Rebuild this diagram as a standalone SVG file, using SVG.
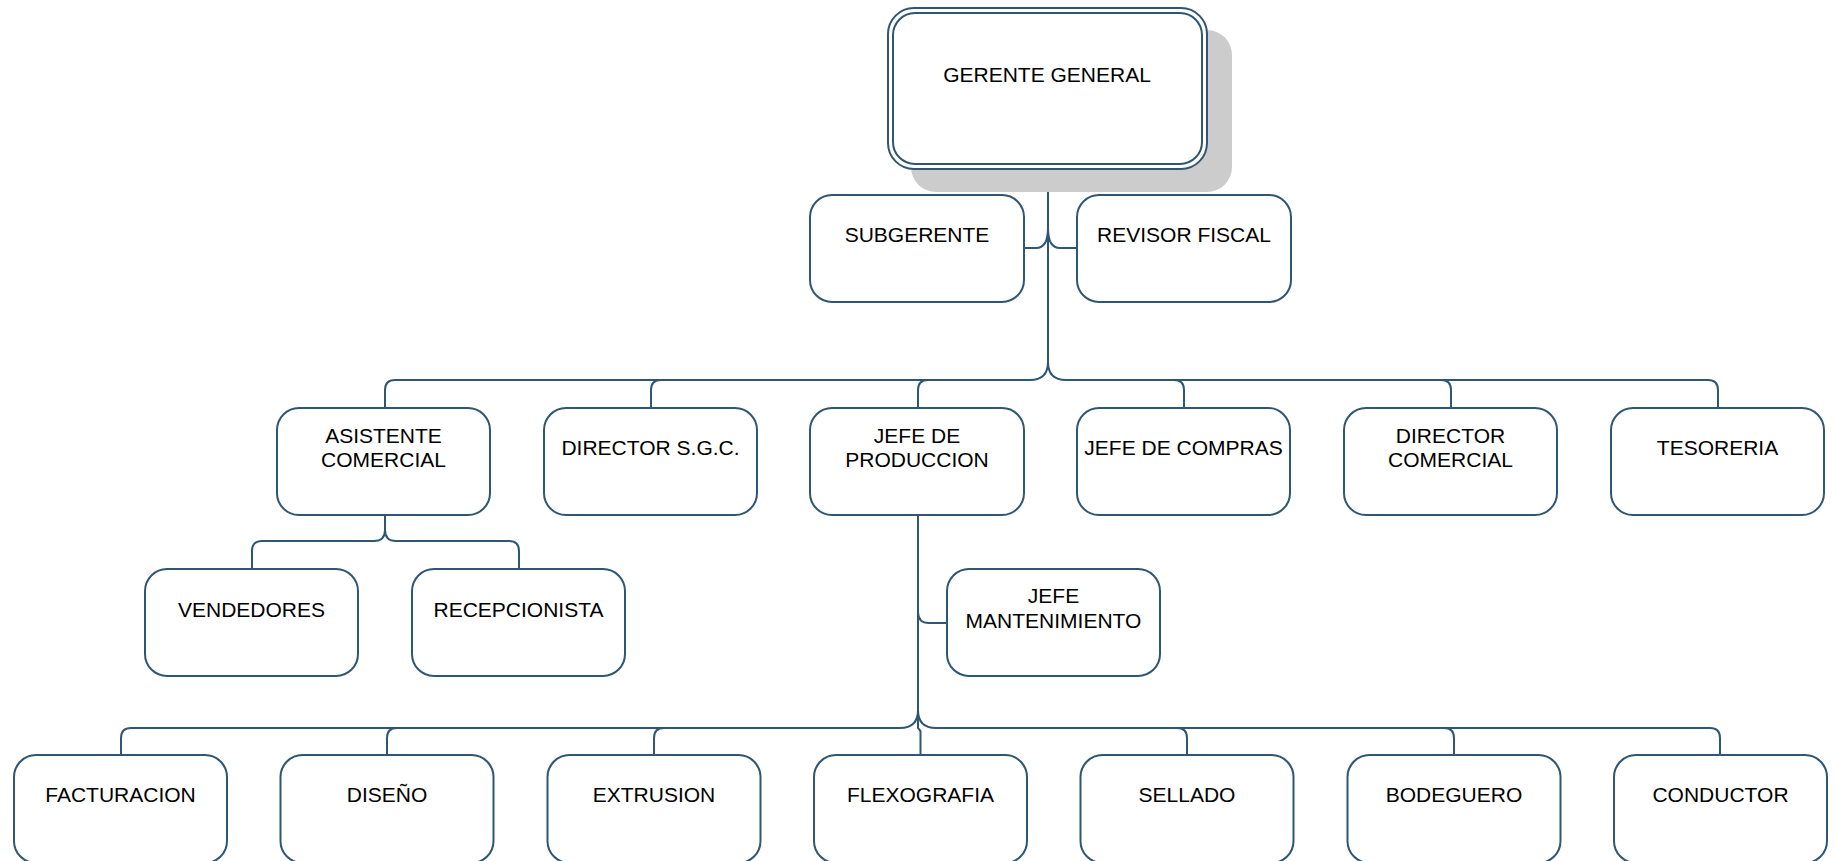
<svg xmlns="http://www.w3.org/2000/svg" width="1836" height="861" viewBox="0 0 1836 861">
<style>
.b{fill:#fff;stroke:#2f5672;stroke-width:2}
.c{fill:none;stroke:#2f5672;stroke-width:2}
.t{font-family:"Liberation Sans",Arial,sans-serif;font-size:21px;fill:#000;text-anchor:middle}
</style>
<rect x="0" y="0" width="1836" height="861" fill="#fff"/>
<g id="connectors">
<path class="c" d="M1048,169 V362" stroke-width="2.5"/>
<path class="c" d="M1048,228 Q1048,248 1036,248 H1024"/>
<path class="c" d="M1048,228 Q1048,248 1060,248 H1077"/>
<path class="c" d="M1048,362 Q1048,380 1030,380 H395 Q385,380 385,390 V408"/>
<path class="c" d="M1048,362 Q1048,380 1066,380 H1708 Q1718,380 1718,390 V408"/>
<path class="c" d="M651,408 V390 Q651,380 661,380"/>
<path class="c" d="M918,408 V390 Q918,380 928,380"/>
<path class="c" d="M1184,408 V390 Q1184,380 1174,380"/>
<path class="c" d="M1451,408 V390 Q1451,380 1441,380"/>
<path class="c" d="M385,515 V530 Q385,541 374,541 H262 Q252,541 252,551 V569"/>
<path class="c" d="M385,530 Q385,541 396,541 H509 Q519,541 519,551 V569"/>
<path class="c" d="M918,515 V710" stroke-width="2.5"/>
<path class="c" d="M918,612 Q918,623 929,623 H947"/>
<path class="c" d="M918,710 Q918,728 900,728 H131 Q121,728 121,738 V755" stroke-width="2.5"/>
<path class="c" d="M918,710 Q918,728 936,728 H1710 Q1720,728 1720,738 V755" stroke-width="2.5"/>
<path class="c" d="M387,755 V738 Q387,728 397,728"/>
<path class="c" d="M654,755 V738 Q654,728 664,728"/>
<path class="c" d="M918,712 V728 L920.5,731 V755"/>
<path class="c" d="M1187,755 V738 Q1187,728 1177,728"/>
<path class="c" d="M1454,755 V738 Q1454,728 1444,728"/>
</g>
<g id="gerente-general">
<rect x="911" y="30" width="321" height="162" rx="25" fill="#cccccc"/>
<rect class="b" x="888" y="8" width="319" height="161" rx="26"/>
<rect class="b" x="893" y="13" width="309" height="151" rx="22"/>
<text class="t" x="1047" y="82">GERENTE GENERAL</text>
</g>
<g id="subgerente">
<rect class="b" x="810" y="195" width="214" height="107" rx="22"/>
<text class="t" x="917" y="242">SUBGERENTE</text>
</g>
<g id="revisor-fiscal">
<rect class="b" x="1077" y="195" width="214" height="107" rx="22"/>
<text class="t" x="1184" y="242">REVISOR FISCAL</text>
</g>
<g id="asistente-comercial">
<rect class="b" x="277" y="408" width="213" height="107" rx="22"/>
<text class="t" x="383.5" y="443">ASISTENTE</text>
<text class="t" x="383.5" y="467">COMERCIAL</text>
</g>
<g id="director-sgc">
<rect class="b" x="544" y="408" width="213" height="107" rx="22"/>
<text class="t" x="650.5" y="455">DIRECTOR S.G.C.</text>
</g>
<g id="jefe-produccion">
<rect class="b" x="810" y="408" width="214" height="107" rx="22"/>
<text class="t" x="917" y="443">JEFE DE</text>
<text class="t" x="917" y="467">PRODUCCION</text>
</g>
<g id="jefe-compras">
<rect class="b" x="1077" y="408" width="213" height="107" rx="22"/>
<text class="t" x="1183.5" y="455">JEFE DE COMPRAS</text>
</g>
<g id="director-comercial">
<rect class="b" x="1344" y="408" width="213" height="107" rx="22"/>
<text class="t" x="1450.5" y="443">DIRECTOR</text>
<text class="t" x="1450.5" y="467">COMERCIAL</text>
</g>
<g id="tesoreria">
<rect class="b" x="1611" y="408" width="213" height="107" rx="22"/>
<text class="t" x="1717.5" y="455">TESORERIA</text>
</g>
<g id="vendedores">
<rect class="b" x="145" y="569" width="213" height="107" rx="22"/>
<text class="t" x="251.5" y="617">VENDEDORES</text>
</g>
<g id="recepcionista">
<rect class="b" x="412" y="569" width="213" height="107" rx="22"/>
<text class="t" x="518.5" y="617">RECEPCIONISTA</text>
</g>
<g id="jefe-mantenimiento">
<rect class="b" x="947" y="569" width="213" height="107" rx="22"/>
<text class="t" x="1053.5" y="603">JEFE</text>
<text class="t" x="1053.5" y="628">MANTENIMIENTO</text>
</g>
<g id="facturacion">
<rect class="b" x="14" y="755" width="213" height="108" rx="22"/>
<text class="t" x="120.5" y="802">FACTURACION</text>
</g>
<g id="diseno">
<rect class="b" x="280.5" y="755" width="213" height="108" rx="22"/>
<text class="t" x="387" y="802">DISEÑO</text>
</g>
<g id="extrusion">
<rect class="b" x="547.5" y="755" width="213" height="108" rx="22"/>
<text class="t" x="654" y="802">EXTRUSION</text>
</g>
<g id="flexografia">
<rect class="b" x="814" y="755" width="213" height="108" rx="22"/>
<text class="t" x="920.5" y="802">FLEXOGRAFIA</text>
</g>
<g id="sellado">
<rect class="b" x="1080.5" y="755" width="213" height="108" rx="22"/>
<text class="t" x="1187" y="802">SELLADO</text>
</g>
<g id="bodeguero">
<rect class="b" x="1347.5" y="755" width="213" height="108" rx="22"/>
<text class="t" x="1454" y="802">BODEGUERO</text>
</g>
<g id="conductor">
<rect class="b" x="1614" y="755" width="213" height="108" rx="22"/>
<text class="t" x="1720.5" y="802">CONDUCTOR</text>
</g>
</svg>
